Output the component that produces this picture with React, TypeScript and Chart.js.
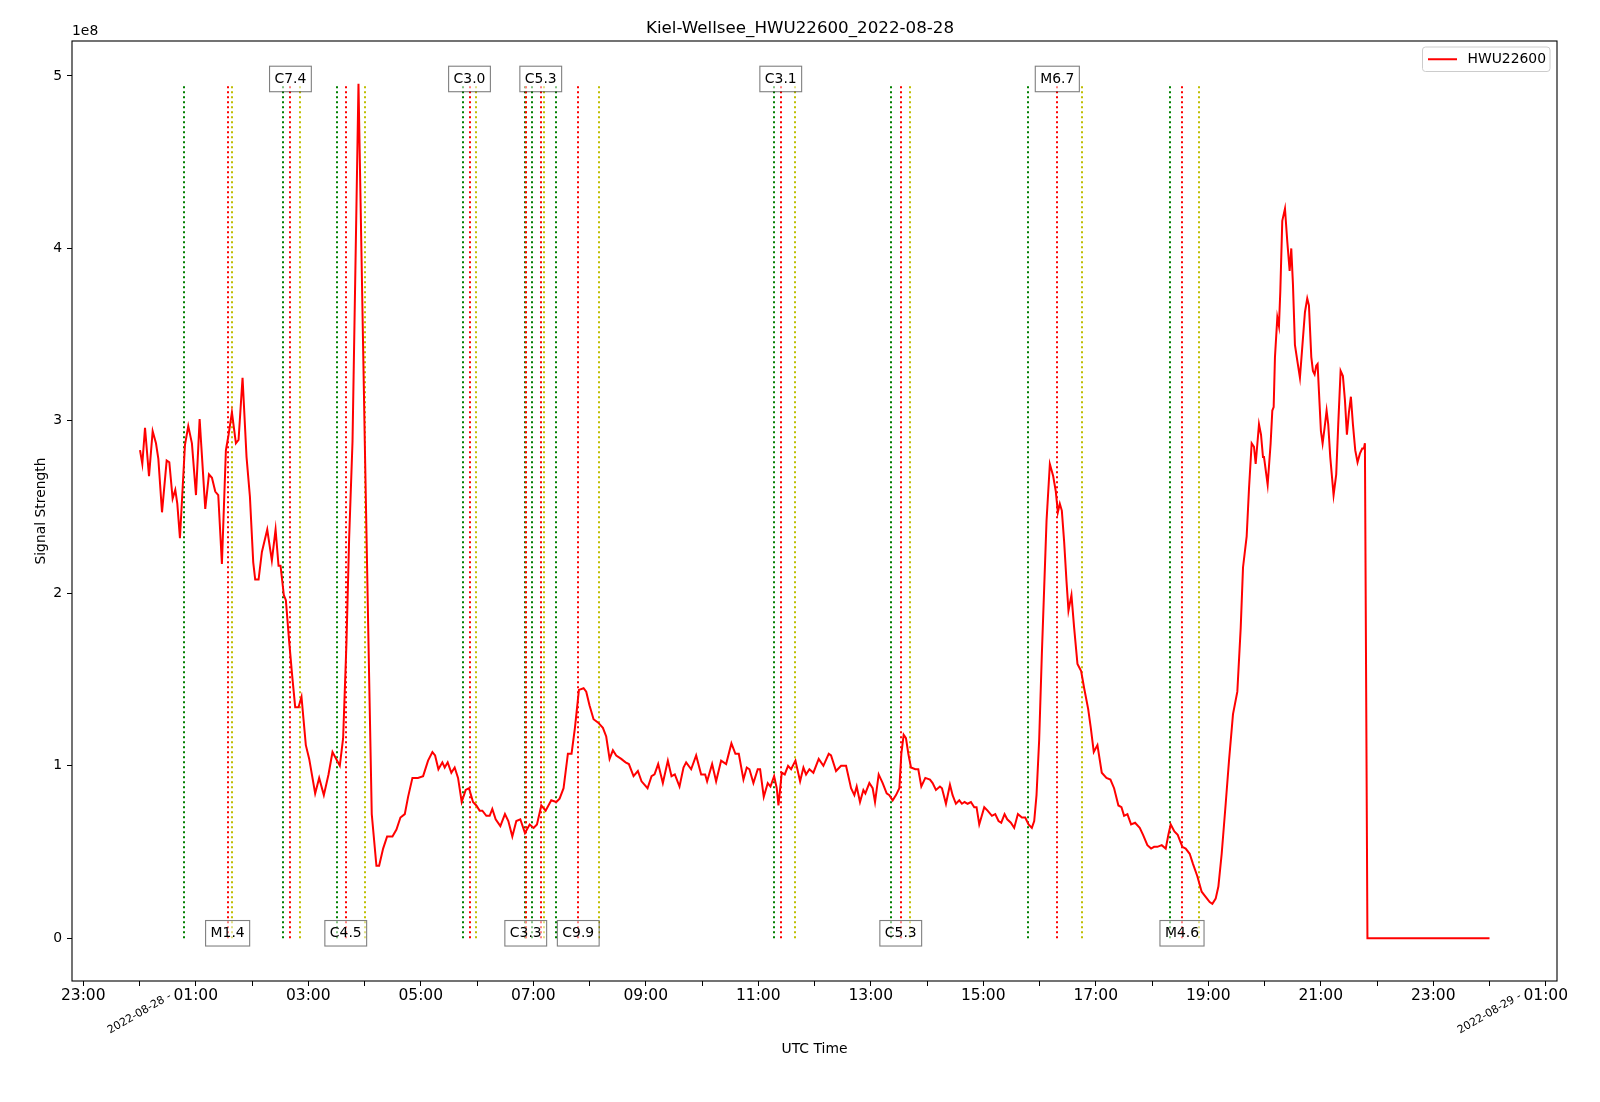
import React, { useEffect, useRef } from "react";
import Chart from "chart.js/auto";

// hours after 2022-08-28 00:00 UTC
const hours = [
  0.009, 0.05, 0.098, 0.169, 0.234, 0.293, 0.335, 0.4, 0.483, 0.53, 0.589, 0.636, 0.672, 0.719, 0.808, 0.867,
  0.932, 1.004, 1.069, 1.169, 1.235, 1.288, 1.347, 1.4, 1.465, 1.536, 1.584, 1.643, 1.714, 1.761, 1.832, 1.903,
  1.963, 2.022, 2.057, 2.117, 2.176, 2.271, 2.353, 2.419, 2.472, 2.507, 2.566, 2.602, 2.661, 2.715, 2.768, 2.827,
  2.88, 2.957, 3.017, 3.123, 3.194, 3.277, 3.36, 3.431, 3.561, 3.62, 3.68, 3.727, 3.787, 3.893, 4.005, 4.082,
  4.129, 4.212, 4.26, 4.331, 4.402, 4.497, 4.568, 4.639, 4.716, 4.775, 4.852, 4.95, 5.042, 5.13, 5.207, 5.255,
  5.314, 5.384, 5.426, 5.479, 5.544, 5.603, 5.663, 5.728, 5.799, 5.858, 5.929, 5.988, 6.047, 6.095, 6.166, 6.225,
  6.272, 6.332, 6.415, 6.497, 6.557, 6.628, 6.699, 6.77, 6.853, 6.936, 7.007, 7.066, 7.143, 7.22, 7.32, 7.409,
  7.468, 7.539, 7.616, 7.681, 7.741, 7.812, 7.895, 7.942, 8.001, 8.072, 8.155, 8.238, 8.297, 8.357, 8.416, 8.475,
  8.564, 8.641, 8.7, 8.783, 8.86, 8.925, 9.032, 9.103, 9.156, 9.221, 9.304, 9.393, 9.458, 9.517, 9.6, 9.671,
  9.718, 9.807, 9.896, 9.985, 10.056, 10.091, 10.18, 10.251, 10.34, 10.429, 10.523, 10.594, 10.654, 10.737, 10.796, 10.843,
  10.914, 10.991, 11.033, 11.098, 11.169, 11.217, 11.282, 11.329, 11.359, 11.418, 11.471, 11.53, 11.584, 11.661, 11.744, 11.803,
  11.85, 11.909, 11.98, 12.075, 12.158, 12.253, 12.294, 12.383, 12.472, 12.561, 12.65, 12.709, 12.75, 12.809, 12.869, 12.904,
  12.975, 13.034, 13.076, 13.141, 13.212, 13.283, 13.33, 13.39, 13.449, 13.508, 13.544, 13.585, 13.626, 13.668, 13.715, 13.792,
  13.845, 13.899, 13.97, 14.053, 14.1, 14.159, 14.23, 14.266, 14.337, 14.408, 14.455, 14.514, 14.574, 14.621, 14.668, 14.722,
  14.781, 14.84, 14.881, 14.929, 15.018, 15.077, 15.154, 15.213, 15.272, 15.32, 15.379, 15.426, 15.491, 15.55, 15.616, 15.687,
  15.746, 15.805, 15.864, 15.906, 15.947, 15.994, 16.042, 16.083, 16.125, 16.184, 16.243, 16.29, 16.326, 16.361, 16.397, 16.438,
  16.48, 16.515, 16.568, 16.616, 16.675, 16.74, 16.794, 16.865, 16.912, 16.965, 17.03, 17.107, 17.19, 17.261, 17.326, 17.403,
  17.457, 17.504, 17.563, 17.628, 17.699, 17.782, 17.841, 17.918, 17.984, 18.037, 18.096, 18.173, 18.244, 18.291, 18.333, 18.398,
  18.457, 18.54, 18.599, 18.67, 18.73, 18.806, 18.883, 18.954, 19.026, 19.073, 19.132, 19.18, 19.239, 19.31, 19.369, 19.44,
  19.517, 19.577, 19.618, 19.683, 19.725, 19.772, 19.813, 19.843, 19.902, 19.938, 19.973, 19.991, 20.056, 20.109, 20.139, 20.163,
  20.186, 20.228, 20.257, 20.281, 20.316, 20.364, 20.405, 20.447, 20.476, 20.506, 20.541, 20.583, 20.63, 20.672, 20.719, 20.76,
  20.79, 20.832, 20.861, 20.891, 20.92, 20.944, 20.968, 21.003, 21.033, 21.068, 21.104, 21.133, 21.169, 21.228, 21.275, 21.311,
  21.353, 21.394, 21.43, 21.465, 21.501, 21.536, 21.572, 21.613, 21.654, 21.696, 21.737, 21.767, 21.785, 21.83, 22.5, 23.0,
  23.5, 24.0,
];

// signal strength, in units of 1e8
const signal = [
  2.83, 2.75, 2.96, 2.68, 2.94, 2.87, 2.78, 2.47, 2.77, 2.76, 2.55, 2.6, 2.52, 2.32, 2.86, 2.97,
  2.87, 2.57, 3.01, 2.49, 2.69, 2.67, 2.59, 2.57, 2.17, 2.83, 2.92, 3.05, 2.87, 2.89, 3.25, 2.79,
  2.56, 2.18, 2.08, 2.08, 2.24, 2.37, 2.19, 2.37, 2.16, 2.16, 1.99, 1.96, 1.72, 1.52, 1.34, 1.34,
  1.4, 1.12, 1.04, 0.84, 0.93, 0.83, 0.95, 1.08, 1.0, 1.16, 1.72, 2.32, 2.88, 4.955, 2.88, 1.52,
  0.72, 0.42, 0.42, 0.52, 0.59, 0.59, 0.63, 0.7, 0.72, 0.82, 0.93, 0.93, 0.94, 1.03, 1.08, 1.06,
  0.98, 1.02, 0.99, 1.02, 0.96, 0.99, 0.93, 0.79, 0.86, 0.87, 0.79, 0.77, 0.74, 0.74, 0.71, 0.71,
  0.75, 0.69, 0.65, 0.72, 0.68, 0.59, 0.68, 0.69, 0.61, 0.66, 0.64, 0.66, 0.77, 0.74, 0.8, 0.79,
  0.81, 0.87, 1.07, 1.07, 1.22, 1.44, 1.45, 1.43, 1.35, 1.27, 1.25, 1.22, 1.17, 1.04, 1.09, 1.06,
  1.04, 1.02, 1.01, 0.94, 0.97, 0.91, 0.87, 0.94, 0.95, 1.01, 0.9, 1.03, 0.94, 0.95, 0.88, 0.99,
  1.02, 0.98, 1.06, 0.95, 0.95, 0.91, 1.01, 0.91, 1.03, 1.01, 1.13, 1.07, 1.07, 0.92, 0.99, 0.98,
  0.9, 0.98, 0.98, 0.82, 0.9, 0.88, 0.94, 0.87, 0.77, 0.96, 0.95, 1.0, 0.98, 1.03, 0.91, 0.99,
  0.95, 0.98, 0.96, 1.04, 1.0, 1.07, 1.06, 0.97, 1.0, 1.0, 0.87, 0.83, 0.88, 0.79, 0.86, 0.84,
  0.9, 0.87, 0.79, 0.95, 0.9, 0.84, 0.83, 0.8, 0.83, 0.87, 1.07, 1.18, 1.16, 1.07, 0.99, 0.98,
  0.98, 0.88, 0.93, 0.92, 0.9, 0.86, 0.88, 0.87, 0.78, 0.89, 0.83, 0.78, 0.8, 0.78, 0.79, 0.78,
  0.79, 0.76, 0.76, 0.66, 0.76, 0.74, 0.71, 0.72, 0.68, 0.67, 0.72, 0.69, 0.67, 0.64, 0.72, 0.7,
  0.7, 0.66, 0.64, 0.68, 0.83, 1.15, 1.65, 2.03, 2.42, 2.75, 2.68, 2.59, 2.47, 2.52, 2.48, 2.3,
  2.07, 1.9, 1.99, 1.8, 1.59, 1.55, 1.45, 1.33, 1.22, 1.08, 1.12, 0.96, 0.93, 0.92, 0.87, 0.77,
  0.76, 0.71, 0.72, 0.66, 0.67, 0.64, 0.6, 0.54, 0.52, 0.53, 0.53, 0.54, 0.52, 0.6, 0.66, 0.62,
  0.6, 0.53, 0.52, 0.49, 0.43, 0.36, 0.27, 0.24, 0.21, 0.2, 0.23, 0.3, 0.49, 0.78, 1.03, 1.3,
  1.43, 1.8, 2.15, 2.33, 2.61, 2.87, 2.85, 2.75, 2.98, 2.92, 2.79, 2.79, 2.63, 2.87, 3.06, 3.08,
  3.37, 3.6, 3.55, 3.75, 4.16, 4.23, 4.04, 3.87, 4.0, 3.79, 3.44, 3.35, 3.25, 3.43, 3.63, 3.71,
  3.67, 3.37, 3.29, 3.27, 3.32, 3.33, 3.17, 2.94, 2.87, 2.96, 3.06, 2.98, 2.79, 2.57, 2.69, 2.98,
  3.29, 3.26, 3.12, 2.92, 3.05, 3.14, 2.98, 2.83, 2.76, 2.81, 2.84, 2.84, 2.87, 0, 0, 0,
  0, 0,
];

const flareClass = ["M1.4", "C7.4", "C4.5", "C3.0", "C3.3", "C5.3", "C9.9", "C3.1", "C5.3", "M6.7", "M4.6"];
const flareStart = ["00:47", "02:33", "03:31", "05:45", "06:51", "06:59", "07:24", "11:17", "13:22", "15:48", "18:19"];
const flarePeak = ["01:34", "02:41", "03:40", "05:52", "06:52", "07:08", "07:48", "11:24", "13:32", "16:19", "18:32"];
const flareEnd = ["01:39", "02:51", "04:01", "05:59", "06:52", "07:11", "08:10", "11:39", "13:42", "16:45", "18:50"];

const majorTickHours = [-1, 1, 3, 5, 7, 9, 11, 13, 15, 17, 19, 21, 23, 25];
const majorTickLabels = ["23:00", "01:00", "03:00", "05:00", "07:00", "09:00", "11:00", "13:00", "15:00", "17:00", "19:00", "21:00", "23:00", "01:00"];
const minorTickHours = [0, 2, 4, 6, 8, 10, 12, 14, 16, 18, 20, 22, 24];
const dateTickHours = [0, 24];
const dateTickLabels = ["2022-08-28 -", "2022-08-29 -"];
const yTicks = [0, 1, 2, 3, 4, 5];

const FONT = '"DejaVu Sans", sans-serif';
const toH = (s: string) => {
  const [h, m] = s.split(":").map(Number);
  return h + m / 60;
};

const maxSignal = Math.max(...signal);

const decor = {
  id: "decor",
  beforeDatasetsDraw(chart: any) {
    const { ctx, scales } = chart;
    const x = scales.x, y = scales.y;
    const y0 = y.getPixelForValue(0);
    const y1 = y.getPixelForValue(maxSignal);
    ctx.save();
    ctx.lineWidth = 2;
    ctx.setLineDash([2, 3]);
    flareClass.forEach((_: string, i: number) => {
      const lines: [string, string][] = [
        [flareStart[i], "#008000"],
        [flareEnd[i], "#bfbf00"],
        [flarePeak[i], "#ff0000"],
      ];
      lines.forEach(([t, c]) => {
        const px = Math.round(x.getPixelForValue(toH(t)));
        ctx.strokeStyle = c;
        ctx.beginPath();
        ctx.moveTo(px, y0);
        ctx.lineTo(px, y1);
        ctx.stroke();
      });
    });
    ctx.restore();
  },
  afterDatasetsDraw(chart: any) {
    const { ctx, scales, chartArea } = chart;
    const x = scales.x, y = scales.y;
    ctx.save();
    ctx.font = `13.9px ${FONT}`;
    ctx.textAlign = "center";
    ctx.textBaseline = "middle";
    flareClass.forEach((label: string, i: number) => {
      const px = x.getPixelForValue(toH(flarePeak[i]));
      const cy = i % 2 === 0 ? y.getPixelForValue(0) - 5 : y.getPixelForValue(5) + 3;
      const w = ctx.measureText(label).width + 10;
      const h = 25.5;
      ctx.fillStyle = "rgba(255,255,255,0.5)";
      ctx.fillRect(px - w / 2, cy - h / 2, w, h);
      ctx.strokeStyle = "rgba(0,0,0,0.5)";
      ctx.lineWidth = 1.1;
      ctx.strokeRect(px - w / 2, cy - h / 2, w, h);
      ctx.fillStyle = "#000";
      ctx.fillText(label, px, cy + 0.5);
    });
    // axes frame
    ctx.strokeStyle = "#000";
    ctx.lineWidth = 1.1;
    ctx.strokeRect(chartArea.left, chartArea.top, chartArea.right - chartArea.left, chartArea.bottom - chartArea.top);
    ctx.restore();
  },
  afterDraw(chart: any) {
    const { ctx, scales, chartArea } = chart;
    const x = scales.x;
    ctx.save();
    ctx.fillStyle = "#000";
    // title
    ctx.font = `16.7px ${FONT}`;
    ctx.textAlign = "center";
    ctx.textBaseline = "middle";
    ctx.fillText("Kiel-Wellsee_HWU22600_2022-08-28", 800, 29);
    // axis titles
    ctx.font = `13.9px ${FONT}`;
    ctx.fillText("UTC Time", (chartArea.left + chartArea.right) / 2, 1049);
    ctx.save();
    ctx.translate(41, (chartArea.top + chartArea.bottom) / 2);
    ctx.rotate(-Math.PI / 2);
    ctx.fillText("Signal Strength", 0, 0);
    ctx.restore();
    // offset text
    ctx.textAlign = "left";
    ctx.fillText("1e8", chartArea.left, 31);
    // date labels
    ctx.font = `11px ${FONT}`;
    ctx.textAlign = "center";
    dateTickHours.forEach((hh, i) => {
      const px = x.getPixelForValue(hh);
      ctx.save();
      ctx.translate(px, chartArea.bottom + 32.5);
      ctx.rotate(-Math.PI / 6);
      ctx.fillText(dateTickLabels[i], 0, 0);
      ctx.restore();
    });
    // legend
    const lw = 127.5, lh = 24.5;
    const lx = chartArea.right - 7 - lw, ly = chartArea.top + 6;
    ctx.beginPath();
    ctx.roundRect(lx, ly, lw, lh, 3);
    ctx.fillStyle = "rgba(255,255,255,0.8)";
    ctx.fill();
    ctx.strokeStyle = "#cccccc";
    ctx.lineWidth = 1;
    ctx.stroke();
    ctx.strokeStyle = "red";
    ctx.lineWidth = 2;
    ctx.beginPath();
    ctx.moveTo(lx + 5.5, ly + lh / 2);
    ctx.lineTo(lx + 34.5, ly + lh / 2);
    ctx.stroke();
    ctx.fillStyle = "#000";
    ctx.font = `13.9px ${FONT}`;
    ctx.textAlign = "left";
    ctx.fillText("HWU22600", lx + 45, ly + lh / 2 + 0.5);
    ctx.restore();
  },
};

export default function App() {
  const canvasRef = useRef<HTMLCanvasElement>(null);

  useEffect(() => {
    const canvas = canvasRef.current;
    if (!canvas) return;
    const xTickValues = [...majorTickHours, ...minorTickHours].sort((a, b) => a - b);

    const chart = new Chart(canvas, {
      type: "line",
      data: {
        datasets: [
          {
            label: "HWU22600",
            data: hours.map((h, i) => ({ x: h, y: signal[i] })),
            borderColor: "red",
            borderWidth: 2,
            pointRadius: 0,
            fill: false,
            tension: 0,
          },
        ],
      },
      options: {
        responsive: false,
        devicePixelRatio: 1,
        animation: false,
        layout: { padding: { top: 41, right: 43, left: 0, bottom: 0 } },
        plugins: {
          legend: { display: false },
          title: { display: false },
          tooltip: { enabled: false },
        },
        scales: {
          x: {
            type: "linear",
            min: -1.2,
            max: 25.2,
            afterBuildTicks: (s: any) => {
              s.ticks = xTickValues.map((v) => ({ value: v }));
            },
            afterFit: (s: any) => {
              s.height = 121;
            },
            ticks: {
              autoSkip: false,
              maxRotation: 0,
              minRotation: 0,
              padding: 1,
              color: "#000",
              font: { family: FONT, size: 15.5 },
              callback: (v: any) => {
                const k = majorTickHours.indexOf(Number(v));
                return k >= 0 ? majorTickLabels[k] : "";
              },
            },
            grid: { drawOnChartArea: false, drawTicks: true, tickLength: 5, color: "#000", lineWidth: 1 },
            border: { display: false },
          },
          y: {
            type: "linear",
            min: -0.05 * maxSignal,
            max: 1.05 * maxSignal,
            afterBuildTicks: (s: any) => {
              s.ticks = yTicks.map((v) => ({ value: v }));
            },
            afterFit: (s: any) => {
              s.width = 72;
            },
            ticks: {
              padding: 5,
              color: "#000",
              font: { family: FONT, size: 13.9 },
              callback: (v: any) => String(v),
            },
            grid: { drawOnChartArea: false, drawTicks: true, tickLength: 5, color: "#000", lineWidth: 1 },
            border: { display: false },
          },
        },
      },
      plugins: [decor],
    });

    return () => {
      chart.destroy();
    };
  }, []);

  return (
    <div style={{ position: "absolute", left: 0, top: 0, width: 1600, height: 1102, background: "#fff" }}>
      <canvas ref={canvasRef} width={1600} height={1102} style={{ width: 1600, height: 1102, display: "block" }} />
    </div>
  );
}
